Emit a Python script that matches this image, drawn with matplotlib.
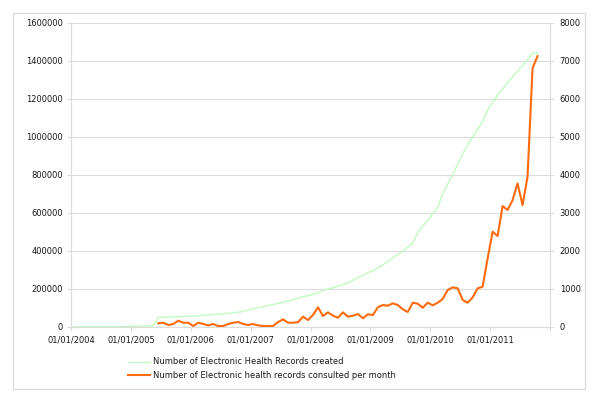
import matplotlib
matplotlib.use("Agg")
import matplotlib.pyplot as plt
from matplotlib.patches import Rectangle
from matplotlib.ticker import FuncFormatter

# ---- data (monthly, index 0 = Jan 2004) ----
year_labels = ["01/01/2004", "01/01/2005", "01/01/2006", "01/01/2007",
               "01/01/2008", "01/01/2009", "01/01/2010", "01/01/2011", ""]

records_created = [
    0, 0, 0, 0, 0, 0, 0, 0, 0, 0, 0,
    2000, 3000, 3000, 4000, 4000, 5000,
    49000, 50000, 51000, 52000, 53000, 54000, 55000, 56000, 58000, 60000,
    62000, 64000, 66000, 68000, 70000, 73000, 76000, 80000, 88000, 95000,
    100000, 105000, 111000, 117000, 122000, 128000, 135000, 142000, 150000,
    158000, 163000, 170000, 177000, 192000, 198000, 205000, 212000, 222000,
    230000, 245000, 258000, 270000, 285000, 293000, 310000, 325000, 345000,
    362000, 380000, 398000, 418000, 440000, 495000, 530000, 560000, 595000,
    630000, 700000, 750000, 800000, 855000, 910000, 955000, 1000000,
    1040000, 1080000, 1140000, 1180000, 1220000, 1250000, 1285000, 1315000,
    1345000, 1375000, 1405000, 1440000, 1440000,
]

consult_start = 17
records_consulted = [
    89, 105, 45, 71, 158, 105, 105, 18, 105, 71, 34, 71, 18, 18, 71, 105,
    123, 71, 45, 71, 34, 18, 18, 18, 123, 193, 105, 105, 120,
    263, 176, 308, 510, 282, 378, 290, 237, 378, 263, 290, 334, 220, 325,
    308, 510, 571, 553, 615, 571, 457, 387, 632, 605, 500, 632, 563, 632,
    729, 966, 1036, 1010, 703, 632, 773, 1010, 1053, 1800, 2500, 2387,
    3176, 3070, 3330, 3770, 3200, 3950, 6800, 7120,
]

label_created = "Number of Electronic Health Records created"
label_consulted = "Number of Electronic health records consulted per month"

# ---- figure ----
W, H = 600, 409
fig = plt.figure(figsize=(W / 100, H / 100), dpi=100)
fig.patch.set_facecolor("white")
fig.patches.append(Rectangle((13 / W, 1 - 389 / H), (585 - 13) / W, (389 - 13) / H,
                             transform=fig.transFigure, fill=False,
                             edgecolor="#d9d9d9", linewidth=0.9))

ax1 = fig.add_axes([71 / W, 1 - 326.7 / H, (550 - 71) / W, (326.7 - 22.7) / H])
ax2 = ax1.twinx()

x_created = [i + 0.5 for i in range(len(records_created))]
x_consulted = [consult_start + i + 0.5 for i in range(len(records_consulted))]

l1, = ax1.plot(x_created, records_created, color="#c2fac2", lw=1.0,
               label=label_created)
l2, = ax2.plot(x_consulted, records_consulted, color="#ff6a0d", lw=1.5,
               label=label_consulted)

fs = 6
tc = "#1a1a1a"
gc = "#dcdcdc"

ax1.set_xlim(0, 96)
ax1.set_ylim(0, 1600000)
ax2.set_ylim(0, 8000)
ax1.set_yticks(range(0, 1600001, 200000))
ax2.set_yticks(range(0, 8001, 1000))
ax1.yaxis.set_major_formatter(FuncFormatter(lambda v, p: "%d" % v))
ax2.yaxis.set_major_formatter(FuncFormatter(lambda v, p: "%d" % v))
ax1.set_xticks(range(0, 97, 12))
ax1.set_xticklabels(year_labels)

ax1.grid(axis="y", color=gc, lw=0.8)
ax1.set_axisbelow(True)

for ax in (ax1, ax2):
    for s in ax.spines.values():
        s.set_color(gc)
        s.set_linewidth(0.8)
    ax.spines["top"].set_visible(False)
    ax.tick_params(labelsize=fs, labelcolor=tc, color=gc, length=3, width=0.8)
ax1.tick_params(axis="x", pad=3.5)
ax1.tick_params(axis="y", pad=3)
ax2.tick_params(axis="y", pad=4)

fig.legend(handles=[l1, l2], loc="upper left",
           bbox_to_anchor=(128 / W, 1 - 357.5 / H), frameon=False,
           fontsize=fs, handlelength=2.6, handletextpad=0.35,
           labelspacing=0.55, borderpad=0, borderaxespad=0,
           labelcolor=tc)

fig.savefig("out.png", dpi=100, facecolor="white")
